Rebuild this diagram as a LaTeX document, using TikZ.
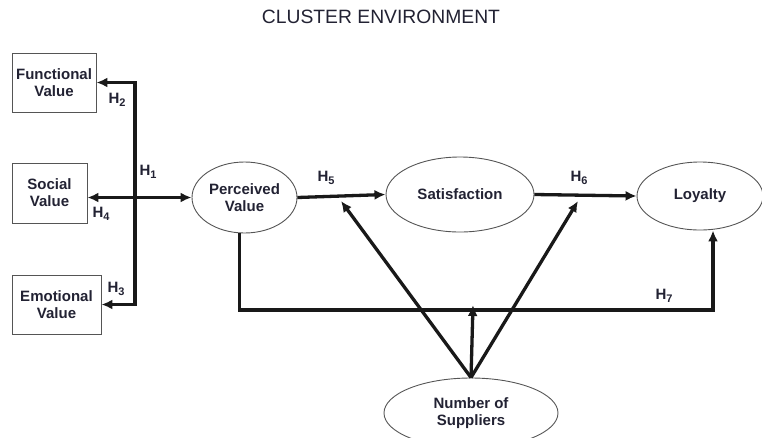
\documentclass[tikz,border=0pt]{standalone}
\usepackage{fontspec}
\setmainfont{Liberation Sans}
\usetikzlibrary{arrows.meta,shapes.geometric}
\definecolor{txt}{HTML}{222233}
\definecolor{edge}{HTML}{555555}
\newcommand{\hyp}[1]{H\raisebox{-3.5pt}{\fontsize{11}{11}\selectfont #1}}
\tikzset{
  boxnode/.style={draw=edge,line width=0.9pt,inner sep=0pt,align=center,font=\fontsize{15}{17}\selectfont\bfseries,text=txt},
  ellnode/.style={ellipse,draw=edge,line width=0.9pt,inner sep=0pt,align=center,font=\fontsize{15}{17}\selectfont\bfseries,text=txt},
  conn/.style={line width=3.3pt,draw=black!90,line join=miter},
  tip/.style={-{Latex[length=11pt,width=10pt]}},
  hlab/.style={font=\fontsize{15}{17}\selectfont\bfseries,text=txt,inner sep=0pt}
}
\begin{document}
\begin{tikzpicture}[x=1pt,y=-1pt]
\useasboundingbox (0,0) rectangle (762,437);
\node[font=\fontsize{19.3}{21}\selectfont,text=txt] (title) at (381,17) {CLUSTER ENVIRONMENT};
\node[boxnode,minimum width=84pt,minimum height=59pt] (func) at (54,82.5) {Functional\\Value};
\node[boxnode,minimum width=75pt,minimum height=60pt] (soc) at (49.5,193) {Social\\Value};
\node[boxnode,minimum width=89pt,minimum height=59pt] (emo) at (56.5,304.5) {Emotional\\Value};
\node[ellnode,minimum width=105pt,minimum height=71pt] (pv) at (244.5,197.5) {Perceived\\Value};
\node[ellnode,minimum width=148pt,minimum height=75pt] (sat) at (460,194.5) {Satisfaction};
\node[ellnode,minimum width=126pt,minimum height=68pt] (loy) at (700,196) {Loyalty};
\node[ellnode,minimum width=174pt,minimum height=70pt] (sup) at (471,413) {Number of\\Suppliers};
\coordinate (jt) at (135,82.5);
\coordinate (jb) at (135,304.5);
\coordinate (c7) at (713,310);
\coordinate (t5) at (341,201);
\coordinate (t6) at (578,201);
\coordinate (t7) at (473,305);
% connectors
\draw[conn,{Latex[length=11pt,width=10pt]}-{Latex[length=11pt,width=10pt]}] (func.east) -- (jt) -- (jb) -- (emo.east);
\draw[conn,{Latex[length=11pt,width=10pt]}-{Latex[length=11pt,width=10pt]}] (soc.east |- pv) -- (pv.west);
\draw[conn,tip] (pv.east) -- (sat.west);
\draw[conn,tip] (sat.east) -- (loy.west);
\draw[conn,tip] ([xshift=-5pt]pv.south) |- (c7) -- (c7 |- loy.south);
\draw[conn,tip] (sup.north) -- (t5);
\draw[conn,tip] (sup.north) -- (t6);
\draw[conn,tip] (sup.north) -- (t7);
% labels
\node[hlab] (h1) at (148,172) {\hyp{1}};
\node[hlab] (h2) at (117,100) {\hyp{2}};
\node[hlab] (h3) at (116,289) {\hyp{3}};
\node[hlab] (h4) at (101,214) {\hyp{4}};
\node[hlab] (h5) at (326,178) {\hyp{5}};
\node[hlab] (h6) at (579,178) {\hyp{6}};
\node[hlab] (h7) at (664,296) {\hyp{7}};
\end{tikzpicture}
\end{document}
